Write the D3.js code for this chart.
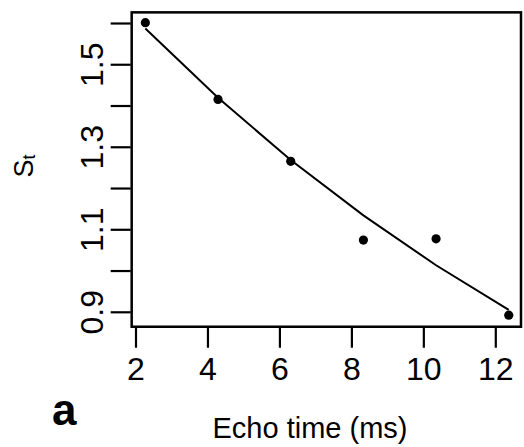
<!DOCTYPE html>
<html>
<head>
<meta charset="utf-8">
<script src="https://cdn.jsdelivr.net/npm/d3@7"></script>
<style>
  body { margin: 0; background: #fff; }
  text { font-family: "Liberation Sans", Arial, sans-serif; fill: #000; }
</style>
</head>
<body>
<div id="chart"></div>
<script>
var echoTimes = [2.26, 4.28, 6.30, 8.32, 10.34, 12.36];
var measured = [1.602, 1.416, 1.266, 1.075, 1.078, 0.893];
// fitted curve values at the same echo times
var fitted = [1.588, 1.420, 1.269, 1.135, 1.014, 0.906];

var xTicks = [2, 4, 6, 8, 10, 12];
var yTicks = [0.9, 1.0, 1.1, 1.2, 1.3, 1.4, 1.5, 1.6];
var yLabels = [0.9, 1.1, 1.3, 1.5];

var svgWidth = 524;
var svgHeight = 447;

var svg = d3.select("#chart")
  .append("svg")
  .attr("width", svgWidth)
  .attr("height", svgHeight);

var xScale = d3.scaleLinear()
  .domain([2, 12])
  .range([136, 495.8]);

var yScale = d3.scaleLinear()
  .domain([0.9, 1.6])
  .range([312.3, 23.5]);

// plot box limits (data units)
var xLim = [1.88, 12.70];
var yLim = [0.865, 1.627];

svg.append("rect")
  .attr("x", xScale(xLim[0]))
  .attr("y", yScale(yLim[1]))
  .attr("width", xScale(xLim[1]) - xScale(xLim[0]))
  .attr("height", yScale(yLim[0]) - yScale(yLim[1]))
  .attr("fill", "none")
  .attr("stroke", "#000")
  .attr("stroke-width", 2.5);

var bottom = yScale(yLim[0]);
var left = xScale(xLim[0]);

// x ticks
svg.selectAll(".xtick")
  .data(xTicks)
  .enter()
  .append("line")
  .attr("x1", d => xScale(d))
  .attr("x2", d => xScale(d))
  .attr("y1", bottom + 1)
  .attr("y2", bottom + 21)
  .attr("stroke", "#000")
  .attr("stroke-width", 2.2);

svg.selectAll(".xlab")
  .data(xTicks)
  .enter()
  .append("text")
  .attr("x", d => xScale(d))
  .attr("y", 380)
  .attr("text-anchor", "middle")
  .attr("font-size", 32)
  .text(d => d);

// y ticks
svg.selectAll(".ytick")
  .data(yTicks)
  .enter()
  .append("line")
  .attr("x1", left - 1)
  .attr("x2", left - 21)
  .attr("y1", d => yScale(d))
  .attr("y2", d => yScale(d))
  .attr("stroke", "#000")
  .attr("stroke-width", 2.2);

svg.selectAll(".ylab")
  .data(yLabels)
  .enter()
  .append("text")
  .attr("transform", d => `translate(103, ${yScale(d)}) rotate(-90)`)
  .attr("text-anchor", "middle")
  .attr("font-size", 32)
  .text(d => d.toFixed(1));

// fitted curve
var line = d3.line()
  .x((d, i) => xScale(echoTimes[i]))
  .y(d => yScale(d));

svg.append("path")
  .datum(fitted)
  .attr("d", line)
  .attr("fill", "none")
  .attr("stroke", "#000")
  .attr("stroke-width", 2);

// measured points
svg.selectAll("circle")
  .data(measured)
  .enter()
  .append("circle")
  .attr("cx", (d, i) => xScale(echoTimes[i]))
  .attr("cy", d => yScale(d))
  .attr("r", 4.6)
  .attr("fill", "#000");

// axis titles
svg.append("text")
  .attr("x", 310)
  .attr("y", 438)
  .attr("text-anchor", "middle")
  .attr("font-size", 29)
  .text("Echo time (ms)");

var yTitle = svg.append("text")
  .attr("transform", "translate(33, 166) rotate(-90)")
  .attr("text-anchor", "middle")
  .attr("font-size", 27);
yTitle.append("tspan").text("S");
yTitle.append("tspan")
  .attr("font-size", 18)
  .attr("dy", 2)
  .text("t");

// panel letter
svg.append("text")
  .attr("x", 52)
  .attr("y", 425)
  .attr("font-size", 44)
  .attr("font-weight", "bold")
  .text("a");
</script>
</body>
</html>
